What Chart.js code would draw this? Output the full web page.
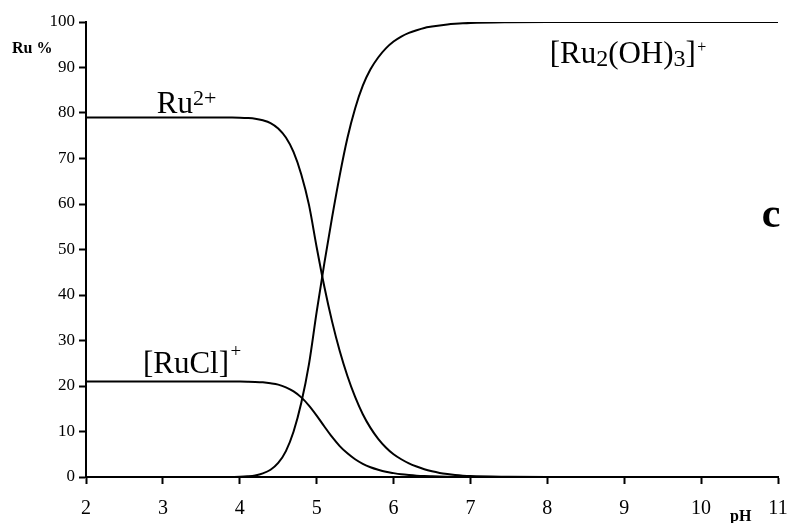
<!DOCTYPE html>
<html>
<head>
<meta charset="utf-8">
<title>Ru species distribution vs pH</title>
<script src="https://cdn.jsdelivr.net/npm/chart.js@4.4.1/dist/chart.umd.min.js"></script>
<style>
  html, body { margin: 0; padding: 0; background: #fff; }
  #wrap { width: 790px; height: 523px; }
</style>
</head>
<body>
<div id="wrap"><canvas id="chart" width="790" height="523"></canvas></div>
<script>
// pH values the curves were read at
const pH = [2, 3, 3.8, 3.9, 4.0, 4.1, 4.2, 4.3, 4.4, 4.5, 4.6, 4.7, 4.8, 4.9,
            5.0, 5.1, 5.2, 5.3, 5.4, 5.5, 5.6, 5.7, 5.8, 5.9,
            6.0, 6.1, 6.2, 6.3, 6.4, 6.5, 6.6, 6.7, 6.8, 6.9,
            7.0, 7.5, 8, 9, 10, 11];

// Ru %, one value per pH point
const ru2 = [79, 79, 79, 79, 78.97, 78.9, 78.75, 78.4, 77.8, 76.6, 74.6, 71.4, 66.5, 59.8,
             50.5, 41.8, 34.2, 27.7, 22.2, 17.6, 13.8, 10.8, 8.4, 6.5,
             5.0, 3.9, 3.0, 2.3, 1.7, 1.25, 0.9, 0.65, 0.45, 0.3,
             0.2, 0.05, 0, 0, 0, 0];
const ruCl = [21, 21, 21, 21, 20.98, 20.95, 20.9, 20.8, 20.6, 20.3, 19.7, 18.8, 17.5, 15.7,
              13.5, 11.1, 8.8, 6.8, 5.2, 3.9, 2.9, 2.15, 1.6, 1.15,
              0.85, 0.6, 0.43, 0.3, 0.21, 0.15, 0.1, 0.07, 0.05, 0.03,
              0.02, 0, 0, 0, 0, 0];
const ru2oh3 = [0, 0, 0, 0.02, 0.05, 0.15, 0.35, 0.8, 1.6, 3.1, 5.7, 10, 16.3, 24.8,
                36.3, 47, 57, 66.3, 74.5, 81, 86, 89.6, 92.2, 94.2,
                95.7, 96.8, 97.6, 98.2, 98.7, 99.0, 99.25, 99.45, 99.6, 99.72,
                99.8, 99.95, 100, 100, 100, 100];

const xTicks = [2, 3, 4, 5, 6, 7, 8, 9, 10, 11];
const yTicks = [0, 10, 20, 30, 40, 50, 60, 70, 80, 90, 100];

const serif = '"Liberation Serif", "Times New Roman", serif';

function toPoints(values) {
    return pH.map((x, i) => ({ x: x, y: values[i] }));
}

function curve(label, values) {
    return {
        label: label,
        data: toPoints(values),
        borderColor: '#000',
        borderWidth: 2,
        pointRadius: 0,
        fill: false,
        cubicInterpolationMode: 'monotone'
    };
}

// draws a sequence of [text, size, dy] runs, for sub/superscripts
function drawRuns(ctx, x, y, runs, weight) {
    runs.forEach(r => {
        ctx.font = (weight || '') + ' ' + r[1] + 'px ' + serif;
        ctx.fillText(r[0], x, y + r[2]);
        x += ctx.measureText(r[0]).width;
    });
}

// species labels, placed in data coordinates
const labelsPlugin = {
    id: 'speciesLabels',
    afterDraw(chart) {
        const ctx = chart.ctx;
        const xs = chart.scales.x, ys = chart.scales.y;
        ctx.save();
        ctx.fillStyle = '#000';
        ctx.textAlign = 'left';
        ctx.textBaseline = 'alphabetic';

        drawRuns(ctx, xs.getPixelForValue(2.92), ys.getPixelForValue(80),
            [['Ru', 31, 0], ['2+', 22, -8]]);
        drawRuns(ctx, xs.getPixelForValue(2.74), ys.getPixelForValue(22.9),
            [['[RuCl]', 31, 0], [' ', 6, 0], ['+', 19, -16]]);
        drawRuns(ctx, xs.getPixelForValue(8.03), ys.getPixelForValue(91),
            [['[Ru', 31, 0], ['2', 24, 3], ['(OH)', 31, 0], ['3', 24, 3], [']', 31, 0],
             [' ', 5, 0], ['+', 16, -11]]);
        drawRuns(ctx, xs.getPixelForValue(10.79), ys.getPixelForValue(55),
            [['c', 42, 0]], 'bold');

        // axis titles
        drawRuns(ctx, 12, 53, [['Ru %', 16, 0]], 'bold');
        drawRuns(ctx, 730, 521, [['pH', 16, 0]], 'bold');
        ctx.restore();
    }
};

const ctx = document.getElementById('chart').getContext('2d');
new Chart(ctx, {
    type: 'line',
    data: {
        datasets: [
            curve('Ru2+', ru2),
            curve('[RuCl]+', ruCl),
            curve('[Ru2(OH)3]+', ru2oh3)
        ]
    },
    options: {
        responsive: false,
        animation: false,
        layout: { padding: { top: 22, right: 12, left: 0, bottom: 0 } },
        plugins: {
            legend: { display: false },
            tooltip: { enabled: false }
        },
        scales: {
            x: {
                type: 'linear',
                min: 2,
                max: 11,
                afterBuildTicks: axis => { axis.ticks = xTicks.map(v => ({ value: v })); },
                afterFit: axis => {
                    axis.height = 46;
                    axis.paddingLeft = 0;
                    axis.paddingRight = 0;
                },
                grid: { drawOnChartArea: false, drawTicks: true, tickLength: 7, tickColor: '#000', tickWidth: 2 },
                border: { display: true, color: '#000', width: 2 },
                ticks: { color: '#000', font: { family: serif, size: 20 }, padding: 13, maxRotation: 0 }
            },
            y: {
                min: 0,
                max: 100,
                afterBuildTicks: axis => { axis.ticks = yTicks.map(v => ({ value: v })); },
                afterFit: axis => {
                    axis.width = 86;
                    axis.paddingTop = 0;
                    axis.paddingBottom = 0;
                },
                grid: { drawOnChartArea: false, drawTicks: true, tickLength: 7, tickColor: '#000', tickWidth: 2 },
                border: { display: true, color: '#000', width: 2 },
                ticks: { color: '#000', font: { family: serif, size: 17 }, padding: 4 }
            }
        }
    },
    plugins: [labelsPlugin]
});
</script>
</body>
</html>
